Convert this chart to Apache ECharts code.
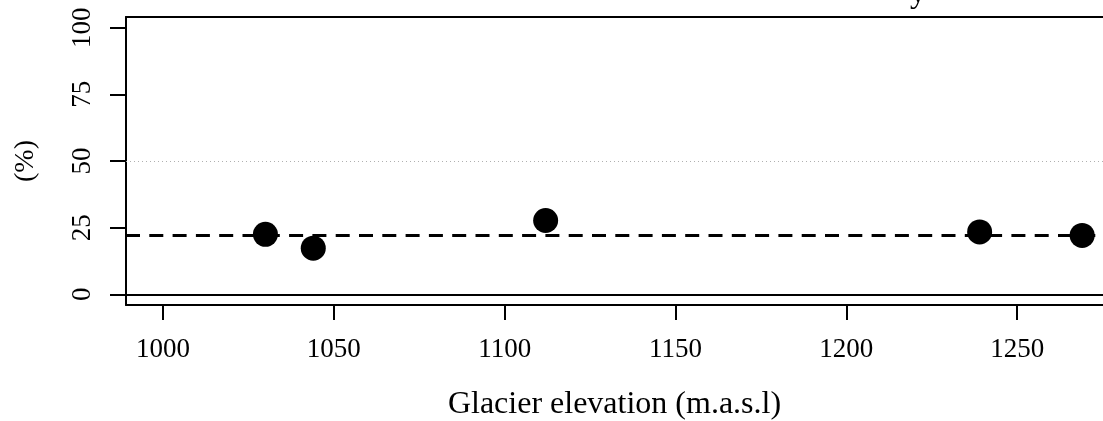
<!DOCTYPE html>
<html>
<head>
<meta charset="utf-8">
<script src="https://cdn.jsdelivr.net/npm/echarts@6/dist/echarts.min.js"></script>
<style>
  html, body { margin: 0; padding: 0; background: #ffffff; }
  #chart { width: 1103px; height: 421px; }
</style>
</head>
<body>
<div id="chart"></div>
<script>
// Glacier elevation vs. percentage
const elevation = [1030, 1044, 1112, 1239, 1269];
const percent = [22.5, 17.3, 27.7, 23.4, 22.1];
const meanLevel = 22.2;
const halfLevel = 50;
const zeroLevel = 0;
const xTicks = [1000, 1050, 1100, 1150, 1200, 1250];
const yTicks = [0, 25, 50, 75, 100];

const serif = '"Liberation Serif", "DejaVu Serif", serif';
const frame = { show: true, onZero: false, lineStyle: { color: '#000', width: 2 } };

const chart = echarts.init(document.getElementById('chart'), null, { renderer: 'canvas' });

chart.setOption({
  backgroundColor: '#ffffff',
  animation: false,
  grid: { left: 126, top: 17, bottom: 116, right: 0, outerBoundsMode: 'none', containLabel: false },
  graphic: [{
    type: 'text',
    left: 910, top: -22,
    style: { text: 'y', font: '32px ' + serif, fill: '#000' }
  }],
  xAxis: [{
    type: 'value',
    position: 'bottom',
    min: 989.2, max: 1275.1,
    name: 'Glacier elevation (m.a.s.l)',
    nameLocation: 'middle',
    nameGap: 84,
    nameTextStyle: { fontFamily: serif, fontSize: 32, color: '#000' },
    axisLine: frame,
    splitLine: { show: false },
    axisTick: { show: true, length: 15, customValues: xTicks, lineStyle: { color: '#000', width: 2 } },
    axisLabel: {
      customValues: xTicks, margin: 31, fontFamily: serif, fontSize: 27, color: '#000',
      formatter: v => String(v)
    }
  }, {
    // top edge of the plot frame
    type: 'value',
    position: 'top',
    min: 989.2, max: 1275.1,
    axisLine: frame,
    axisTick: { show: false },
    axisLabel: { show: false },
    splitLine: { show: false }
  }],
  yAxis: {
    type: 'value',
    min: -4, max: 104,
    name: '(%)',
    nameLocation: 'middle',
    nameRotate: 90,
    nameGap: 86,
    nameTextStyle: { fontFamily: serif, fontSize: 28, color: '#000' },
    axisLine: frame,
    splitLine: { show: false },
    axisTick: { show: true, length: 16, customValues: yTicks, lineStyle: { color: '#000', width: 2 } },
    axisLabel: { customValues: yTicks, rotate: 90, margin: 30, fontFamily: serif, fontSize: 27, color: '#000' }
  },
  series: [{
    type: 'scatter',
    data: elevation.map((e, i) => [e, percent[i]]),
    symbol: 'circle',
    symbolSize: 25,
    itemStyle: { color: '#000', opacity: 1 },
    z: 5,
    markLine: {
      silent: true,
      symbol: ['none', 'none'],
      label: { show: false },
      data: [
        { yAxis: zeroLevel, lineStyle: { color: '#000', width: 2, type: 'solid', opacity: 1 } },
        { yAxis: halfLevel, lineStyle: { color: '#b0b0b0', width: 1, type: [1, 3], opacity: 1 } },
        { yAxis: meanLevel, lineStyle: { color: '#000', width: 3, type: [14, 9.3], opacity: 1 } }
      ]
    }
  }]
});
</script>
</body>
</html>
